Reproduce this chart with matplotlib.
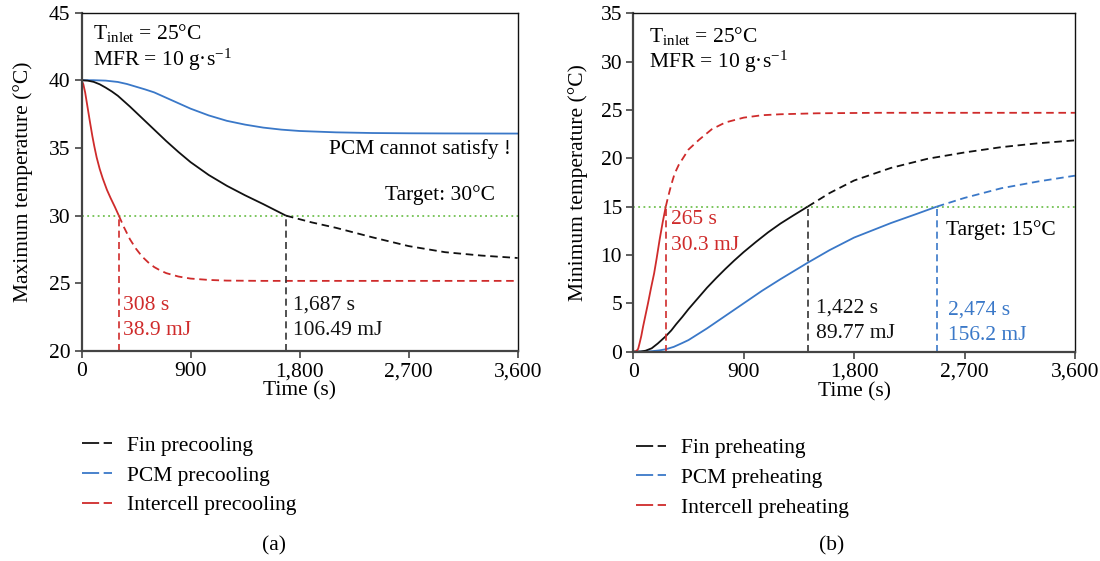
import matplotlib
matplotlib.use("Agg")
import matplotlib.pyplot as plt
from matplotlib.lines import Line2D
import numpy as np

plt.rcParams['font.family'] = ['Liberation Serif', 'DejaVu Serif']
plt.rcParams['mathtext.fontset'] = 'custom'
plt.rcParams['mathtext.rm'] = 'Liberation Serif'
plt.rcParams['mathtext.it'] = 'Liberation Serif:italic'
plt.rcParams['font.size'] = 15

# ---------------- data (a) precooling: maximum temperature ----------------
fin_cool_t = [0, 50, 100, 150, 200, 250, 300, 400, 500, 600, 700, 800, 900, 1050, 1200,
              1350, 1500, 1687, 1900, 2100, 2400, 2700, 3000, 3300, 3600]
fin_cool_T = [40, 39.97, 39.88, 39.7, 39.45, 39.17, 38.85, 38.05, 37.2, 36.35, 35.5, 34.7,
              33.95, 33.0, 32.2, 31.5, 30.85, 30.0, 29.5, 29.1, 28.4, 27.75, 27.3, 27.05, 26.87]
pcm_cool_t = [0, 100, 200, 300, 375, 450, 525, 600, 750, 900, 1050, 1200, 1350, 1500, 1650,
              1800, 2100, 2400, 2700, 3000, 3600]
pcm_cool_T = [40, 40.0, 39.97, 39.87, 39.72, 39.52, 39.32, 39.1, 38.5, 37.9, 37.4, 37.0,
              36.72, 36.5, 36.35, 36.25, 36.15, 36.1, 36.08, 36.07, 36.06]
int_cool_t = [0, 15, 30, 50, 70, 90, 106, 125, 150, 175, 210, 240, 275, 308, 350, 400, 450,
              500, 550, 600, 650, 700, 800, 900, 1050, 1200, 1500, 3600]
int_cool_T = [40, 39.7, 39.1, 38.0, 36.9, 35.85, 35.1, 34.3, 33.45, 32.75, 31.9, 31.3, 30.65,
              30.0, 29.15, 28.25, 27.55, 26.98, 26.55, 26.2, 25.95, 25.75, 25.5, 25.35, 25.25,
              25.2, 25.18, 25.18]
cool_cross = {'fin': 1687, 'int': 308}
cool_target = 30

# ---------------- data (b) preheating: minimum temperature ----------------
fin_heat_t = [0, 60, 100, 150, 200, 265, 310, 350, 400, 450, 525, 600, 675, 750, 825, 900,
              1000, 1100, 1200, 1300, 1422, 1600, 1800, 2100, 2400, 2700, 3000, 3300, 3600]
fin_heat_T = [0, 0.02, 0.1, 0.35, 0.85, 1.6, 2.2, 2.85, 3.6, 4.4, 5.5, 6.6, 7.6, 8.55, 9.45,
              10.3, 11.35, 12.35, 13.25, 14.05, 15.0, 16.4, 17.7, 19.0, 19.95, 20.6, 21.15,
              21.55, 21.85]
pcm_heat_t = [0, 100, 150, 210, 265, 330, 400, 450, 500, 600, 750, 900, 1050, 1200, 1422,
              1600, 1800, 2100, 2300, 2474, 2700, 3000, 3300, 3600]
pcm_heat_T = [0, 0.02, 0.05, 0.13, 0.25, 0.5, 0.9, 1.2, 1.6, 2.4, 3.7, 5.0, 6.3, 7.5, 9.2,
              10.5, 11.8, 13.3, 14.2, 15.0, 15.9, 16.9, 17.6, 18.2]
int_heat_t = [0, 25, 40, 50, 65, 80, 100, 120, 145, 170, 190, 215, 240, 265, 280, 300, 320,
              337, 370, 400, 450, 535, 640, 750, 900, 1050, 1200, 1500, 2000, 3600]
int_heat_T = [0, 0.05, 0.3, 0.8, 1.6, 2.6, 3.8, 5.0, 6.6, 8.1, 9.6, 11.6, 13.4, 15.0, 15.8,
              16.8, 17.7, 18.4, 19.3, 19.9, 20.9, 21.9, 23.0, 23.7, 24.2, 24.45, 24.55, 24.65,
              24.7, 24.7]
heat_cross = {'fin': 1422, 'pcm': 2474, 'int': 265}
heat_target = 15

xticks = [0, 900, 1800, 2700, 3600]
xtick_labels = ['0', '900', '1,800', '2,700', '3,600']

BLACK = '#111111'
BLUE = '#3a78c8'
RED = '#cf2b2b'
GREEN = '#72c152'
VGRAY = '#333333'

LW = 1.3
DASH = (4.2, 2.6)
FS = 15.5


def split_plot(ax, t, T, tc, color):
    t = np.asarray(t, float)
    T = np.asarray(T, float)
    if tc is None:
        ax.plot(t, T, color=color, lw=LW)
        return
    m1 = t <= tc
    m2 = t >= tc
    ax.plot(t[m1], T[m1], color=color, lw=LW, solid_capstyle='butt')
    ax.plot(t[m2], T[m2], color=color, lw=LW, dashes=DASH)


def style_axes(ax, ylim, yticks):
    ax.set_xlim(0, 3600)
    ax.set_ylim(*ylim)
    ax.set_xticks(xticks)
    ax.set_xticklabels(xtick_labels)
    ax.set_yticks(yticks)
    for s in ['left', 'bottom']:
        ax.spines[s].set_linewidth(1.6)
        ax.spines[s].set_color('#444444')
    for s in ['top', 'right']:
        ax.spines[s].set_linewidth(1.0)
        ax.spines[s].set_color('#111111')
    ax.tick_params(direction='out', length=5, width=1.2, color='#444444',
                   top=False, right=False, labelsize=FS, pad=3)
    ax.set_xlabel('Time (s)', fontsize=FS, labelpad=0)


fig = plt.figure(figsize=(11, 5.61), dpi=100)
ax1 = fig.add_axes([0.0741, 0.3743, 0.3965, 0.6034])
ax2 = fig.add_axes([0.5757, 0.3731, 0.4015, 0.6034])

# ---------- panel (a) ----------
ax1.plot([0, 3600], [cool_target, cool_target], color=GREEN, lw=1.3, dashes=(1, 1.9))
split_plot(ax1, pcm_cool_t, pcm_cool_T, None, BLUE)
split_plot(ax1, fin_cool_t, fin_cool_T, cool_cross['fin'], BLACK)
split_plot(ax1, int_cool_t, int_cool_T, cool_cross['int'], RED)
ax1.plot([cool_cross['int']] * 2, [20, cool_target], color=RED, lw=1.2, dashes=DASH)
ax1.plot([cool_cross['fin']] * 2, [20, cool_target], color=VGRAY, lw=1.2, dashes=DASH)
style_axes(ax1, (20, 45), [20, 25, 30, 35, 40, 45])
ax1.set_ylabel('Maximum temperature (°C)', fontsize=FS, labelpad=11)

ax1.text(93, 43.47, r'T$_{\mathrm{inlet}}$ = 25°C', va='center', ha='left', fontsize=FS)
ax1.text(93, 41.5, r'MFR = 10 g·s$^{-1}$', va='center', ha='left', fontsize=FS)
ax1.text(3543, 34.95, 'PCM cannot satisfy !', va='center', ha='right', fontsize=FS)
ax1.text(3412, 31.49, 'Target: 30°C', va='center', ha='right', fontsize=FS)
ax1.text(339, 23.38, '308 s', va='center', ha='left', color=RED, fontsize=FS)
ax1.text(339, 21.48, '38.9 mJ', va='center', ha='left', color=RED, fontsize=FS)
ax1.text(1745, 23.38, '1,687 s', va='center', ha='left', color=BLACK, fontsize=FS)
ax1.text(1745, 21.48, '106.49 mJ', va='center', ha='left', color=BLACK, fontsize=FS)

# ---------- panel (b) ----------
ax2.plot([0, 3600], [heat_target, heat_target], color=GREEN, lw=1.3, dashes=(1, 1.9))
split_plot(ax2, pcm_heat_t, pcm_heat_T, heat_cross['pcm'], BLUE)
split_plot(ax2, fin_heat_t, fin_heat_T, heat_cross['fin'], BLACK)
split_plot(ax2, int_heat_t, int_heat_T, heat_cross['int'], RED)
ax2.plot([heat_cross['int']] * 2, [0, heat_target], color=RED, lw=1.2, dashes=DASH)
ax2.plot([heat_cross['fin']] * 2, [0, heat_target], color=VGRAY, lw=1.2, dashes=DASH)
ax2.plot([heat_cross['pcm']] * 2, [0, heat_target], color=BLUE, lw=1.2, dashes=DASH)
style_axes(ax2, (0, 35), [0, 5, 10, 15, 20, 25, 30, 35])
ax2.set_ylabel('Minimum temperature (°C)', fontsize=FS, labelpad=9)

ax2.text(132, 32.59, r'T$_{\mathrm{inlet}}$ = 25°C', va='center', ha='left', fontsize=FS)
ax2.text(132, 30.0, r'MFR = 10 g·s$^{-1}$', va='center', ha='left', fontsize=FS)
ax2.text(3443, 12.6, 'Target: 15°C', va='center', ha='right', fontsize=FS)
ax2.text(309, 13.62, '265 s', va='center', ha='left', color=RED, fontsize=FS)
ax2.text(309, 11.03, '30.3 mJ', va='center', ha='left', color=RED, fontsize=FS)
ax2.text(1488, 4.48, '1,422 s', va='center', ha='left', color=BLACK, fontsize=FS)
ax2.text(1488, 1.9, '89.77 mJ', va='center', ha='left', color=BLACK, fontsize=FS)
ax2.text(2564, 4.3, '2,474 s', va='center', ha='left', color=BLUE, fontsize=FS)
ax2.text(2564, 1.72, '156.2 mJ', va='center', ha='left', color=BLUE, fontsize=FS)

# ---------- legends ----------
def handles(colors):
    return [Line2D([], [], color=c, lw=1.3, dashes=(9.5, 2.5)) for c in colors]

cols = [BLACK, BLUE, RED]
leg_a = ['Fin precooling', 'PCM precooling', 'Intercell precooling']
leg_b = ['Fin preheating', 'PCM preheating', 'Intercell preheating']
fig.legend(handles(cols), leg_a, loc='upper left', bbox_to_anchor=(0.0745, 0.223),
           frameon=False, handlelength=1.4, handletextpad=0.7, labelspacing=0.45,
           borderpad=0, borderaxespad=0, fontsize=FS)
fig.legend(handles(cols), leg_b, loc='upper left', bbox_to_anchor=(0.578, 0.219),
           frameon=False, handlelength=1.4, handletextpad=0.7, labelspacing=0.45,
           borderpad=0, borderaxespad=0, fontsize=FS)

fig.text(274 / 1100, 1 - 546 / 561, '(a)', ha='center', va='center', fontsize=FS)
fig.text(832 / 1100, 1 - 546 / 561, '(b)', ha='center', va='center', fontsize=FS)

fig.savefig('out.png', dpi=100)
